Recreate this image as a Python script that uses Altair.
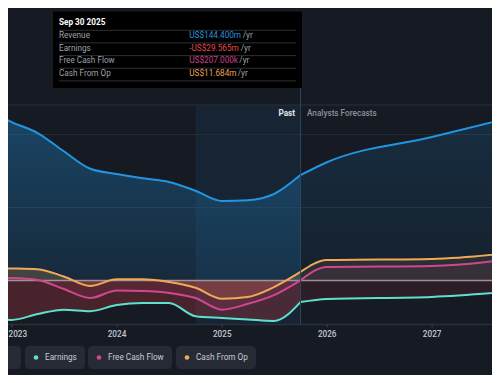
import altair as alt
import pandas as pd

# ---------------- data ----------------
past_dates = ["2022-09-30", "2022-12-31", "2023-03-31", "2023-06-30", "2023-09-30", "2023-12-31",
              "2024-03-31", "2024-06-30", "2024-09-30", "2024-12-31", "2025-03-31", "2025-06-30",
              "2025-09-30"]
revenue_past = [236, 217, 202, 177, 153, 146, 140, 135, 123, 109, 110, 118.5, 144.4]
earnings_past = [-47, -54, -46, -40, -42, -33.6, -30.8, -30.8, -49, -51.4, -53.4, -55.5, -29.565]
fcf_past = [4, 3.4, 0.7, -11.6, -24, -13.7, -14.4, -17, -24, -40, -32, -20, 0.207]
cfo_past = [17, 16.5, 15.5, 5.5, -7.5, 1.6, 1.6, -2, -10, -25, -22.6, -9, 11.684]

fc_dates = ["2025-09-30", "2025-12-31", "2026-12-31", "2027-12-31"]
revenue_fc = [144.4, 162, 196.6, 232]
earnings_fc = [-29.565, -25.3, -22.6, -12]
fcf_fc = [0.207, 18.5, 19.9, 34.6]
cfo_fc = [11.684, 28, 29.5, 42]

series_names = ["Revenue", "Earnings", "Free Cash Flow", "Cash From Op"]
series_colors = ["#2394df", "#5fe0cf", "#d0478f", "#f0a957"]

grid_values = [100, 200]
year_ticks = ["2023-01-01", "2024-01-01", "2025-01-01", "2026-01-01", "2027-01-01"]
year_labels = ["2023", "2024", "2025", "2026", "2027"]

highlight_start = "2024-09-30"
highlight_end = "2025-09-30"

tip_title = "Sep 30 2025"
tip_values = ["US$144.400m", "-US$29.565m", "US$207.000k", "US$11.684m"]
tip_value_colors = ["#2a90da", "#e5484d", "#c8408a", "#e9a24f"]
tip_unit = "/yr"

past_label = "Past"
forecast_label = "Analysts Forecasts"

# ---------------- layout ----------------
W, H = 484, 367
BG = "#151a23"
FONT = "Roboto"
FS = 8.2
TOP = 97
AXIS_Y = 316.5

xs = alt.Scale(domain=[alt.DateTime(year=2022, month=12, date=18, utc=True),
                       alt.DateTime(year=2027, month=7, date=28, utc=True)])
ys = alt.Scale(domain=[-129.5, 373.3], nice=False, zero=False)

rows = []
for phase, dates, arrs in [("past", past_dates, [revenue_past, earnings_past, fcf_past, cfo_past]),
                           ("fc", fc_dates, [revenue_fc, earnings_fc, fcf_fc, cfo_fc])]:
    for name, arr in zip(series_names, arrs):
        for d, v in zip(dates, arr):
            rows.append({"date": d, "value": v, "series": name, "phase": phase})
df = pd.DataFrame(rows)

X = alt.X("date:T", scale=xs, axis=None)
Y = alt.Y("value:Q", scale=ys, axis=None)
color = alt.Color("series:N", scale=alt.Scale(domain=series_names, range=series_colors), legend=None)


def grad(rgb, a0, a1):
    return alt.Gradient(gradient="linear",
                        stops=[alt.GradientStop(color=f"rgba({rgb},{a0})", offset=0),
                               alt.GradientStop(color=f"rgba({rgb},{a1})", offset=1)],
                        x1=1, x2=1, y1=0, y2=1)


base = alt.Chart(df)

layers = []

# highlight band (last 12 months)
band = alt.Chart(pd.DataFrame({"s": [highlight_start], "e": [highlight_end]})).mark_rect(
    color="#2394df", opacity=0.09).encode(
    x=alt.X("s:T", scale=xs, axis=None), x2="e:T", y=alt.value(TOP), y2=alt.value(AXIS_Y))
layers.append(band)

# grid lines
grid = alt.Chart(pd.DataFrame({"v": grid_values})).mark_rule(color="#262d38", strokeWidth=1).encode(
    y=alt.Y("v:Q", scale=ys, axis=None))
top_line = alt.Chart(pd.DataFrame({"a": [0]})).mark_rule(color="#2a303a", strokeWidth=1).encode(
    y=alt.value(TOP))
layers += [grid, top_line]

# areas
area_specs = [
    ("Revenue", "past", grad("35,148,223", 0.36, 0.13)),
    ("Revenue", "fc", grad("35,148,223", 0.16, 0.05)),
    ("Cash From Op", "past", "rgba(240,169,87,0.2)"),
    ("Cash From Op", "fc", "rgba(240,169,87,0.1)"),
    ("Free Cash Flow", "past", "rgba(208,71,143,0.12)"),
    ("Free Cash Flow", "fc", "rgba(208,71,143,0.08)"),
    ("Earnings", "past", "rgba(224,60,70,0.26)"),
    ("Earnings", "fc", "rgba(224,60,70,0.12)"),
]
for name, phase, fill in area_specs:
    layers.append(
        base.transform_filter((alt.datum.series == name) & (alt.datum.phase == phase))
        .mark_area(interpolate="monotone", clip=True, color=fill)
        .encode(x=X, y=Y, y2=alt.datum(0))
    )

# zero line
zero = alt.Chart(pd.DataFrame({"v": [0]})).mark_rule(color="#9a9399", strokeWidth=1.5).encode(
    y=alt.Y("v:Q", scale=ys, axis=None))
layers.append(zero)

# lines
lines = base.mark_line(interpolate="monotone", strokeWidth=2, clip=True).encode(
    x=X, y=Y, color=color, detail="phase:N")
layers.append(lines)

# divider at Sep 30 2025
divider = alt.Chart(pd.DataFrame({"d": [highlight_end]})).mark_rule(color="#2b4760", strokeWidth=1).encode(
    x=alt.X("d:T", scale=xs, axis=None), y=alt.value(80), y2=alt.value(AXIS_Y))
layers.append(divider)

# points at latest value
pts = base.transform_filter((alt.datum.phase == "past") & (alt.datum.date == highlight_end)).mark_point(
    filled=True, size=42, stroke="#e8eef5", strokeWidth=1, opacity=1).encode(
    x=X, y=Y, fill=alt.Fill("series:N", scale=alt.Scale(domain=series_names, range=series_colors), legend=None))
layers.append(pts)

# x axis
axis_line = alt.Chart(pd.DataFrame({"a": [0]})).mark_rule(color="#2a303a", strokeWidth=1.5).encode(
    y=alt.value(AXIS_Y))
ticks_df = pd.DataFrame({"d": year_ticks, "label": year_labels})
ticks = alt.Chart(ticks_df).mark_rule(color="#3a404b", strokeWidth=1).encode(
    x=alt.X("d:T", scale=xs, axis=None), y=alt.value(AXIS_Y), y2=alt.value(AXIS_Y + 3))
first_label = alt.Chart(ticks_df.iloc[:1]).mark_text(
    font=FONT, fontSize=FS, color="#c3c7cd", fontWeight=500, baseline="middle", align="left").encode(
    x=alt.value(0.5), y=alt.value(AXIS_Y + 10), text="label:N")
tick_labels = alt.Chart(ticks_df.iloc[1:]).mark_text(
    font=FONT, fontSize=FS, color="#c3c7cd", fontWeight=500, baseline="middle").encode(
    x=alt.X("d:T", scale=xs, axis=None), y=alt.value(AXIS_Y + 10), text="label:N")
layers += [axis_line, ticks, first_label, tick_labels]

# Past / Forecast labels
past_txt = alt.Chart(pd.DataFrame({"t": [past_label]})).mark_text(
    font=FONT, fontSize=FS, fontWeight="bold", color="#e4e7eb", align="right", baseline="middle").encode(
    x=alt.value(287), y=alt.value(106), text="t:N")
fc_txt = alt.Chart(pd.DataFrame({"t": [forecast_label]})).mark_text(
    font=FONT, fontSize=FS, fontWeight=500, color="#8b9099", align="left", baseline="middle").encode(
    x=alt.value(299), y=alt.value(106), text="t:N")
layers += [past_txt, fc_txt]

# tooltip box
tip_box = alt.Chart(pd.DataFrame({"a": [0]})).mark_rect(color="#000000").encode(
    x=alt.value(45), x2=alt.value(294), y=alt.value(3.5), y2=alt.value(80))
tip_title_mark = alt.Chart(pd.DataFrame({"t": [tip_title]})).mark_text(
    font=FONT, fontSize=FS, fontWeight="bold", color="#ffffff", align="left", baseline="middle").encode(
    x=alt.value(51), y=alt.value(15), text="t:N")
row_y = [28 + 12.65 * i for i in range(4)]
sep_y = [22.3 + 12.65 * i for i in range(5)]
unit_x = [234.7, 232.7, 231.3, 229.7]
tip_df = pd.DataFrame({"label": series_names, "val": tip_values, "vc": tip_value_colors,
                       "y": row_y, "ux": unit_x, "unit": [tip_unit] * 4})
seps = alt.Chart(pd.DataFrame({"y": sep_y})).mark_rule(color="#2c2f35", strokeWidth=1).encode(
    x=alt.value(51), x2=alt.value(288), y=alt.Y("y:Q", scale=None))
tip_labels = alt.Chart(tip_df).mark_text(font=FONT, fontSize=FS, color="#9ea3aa", align="left",
                                         baseline="middle").encode(
    x=alt.value(51), y=alt.Y("y:Q", scale=None), text="label:N")
tip_vals = alt.Chart(tip_df).mark_text(font=FONT, fontSize=FS, align="left", baseline="middle").encode(
    x=alt.value(181.3), y=alt.Y("y:Q", scale=None), text="val:N", color=alt.Color("vc:N", scale=None))
tip_units = alt.Chart(tip_df).mark_text(font=FONT, fontSize=FS, color="#9ea3aa", align="left",
                                        baseline="middle").encode(
    x=alt.X("ux:Q", scale=None), y=alt.Y("y:Q", scale=None), text="unit:N")
layers += [tip_box, tip_title_mark, seps, tip_labels, tip_vals, tip_units]

# legend pills
pill_x0 = [-52, 17, 80, 168]
pill_x1 = [13, 77, 164, 248]
leg_df = pd.DataFrame({"name": series_names, "c": series_colors, "x0": pill_x0, "x1": pill_x1,
                       "dx": [v + 11 for v in pill_x0], "tx": [v + 20 for v in pill_x0]})
pills = alt.Chart(leg_df).mark_rect(color="#252a34", cornerRadius=4).encode(
    x=alt.X("x0:Q", scale=None), x2="x1:Q", y=alt.value(338), y2=alt.value(361))
dots = alt.Chart(leg_df).mark_point(filled=True, size=22, opacity=1).encode(
    x=alt.X("dx:Q", scale=None), y=alt.value(349.5), fill=alt.Color("c:N", scale=None))
leg_txt = alt.Chart(leg_df).mark_text(font=FONT, fontSize=FS, color="#c9cdd3", align="left",
                                      baseline="middle").encode(
    x=alt.X("tx:Q", scale=None), y=alt.value(349.5), text="name:N")
layers += [pills, dots, leg_txt]

chart = alt.layer(*layers).properties(
    width=W, height=H, background=BG, padding=0,
    autosize=alt.AutoSizeParams(type="none"),
).configure_view(stroke=None)

chart.save("out.html", embed_options={"renderer": "svg", "actions": False})
